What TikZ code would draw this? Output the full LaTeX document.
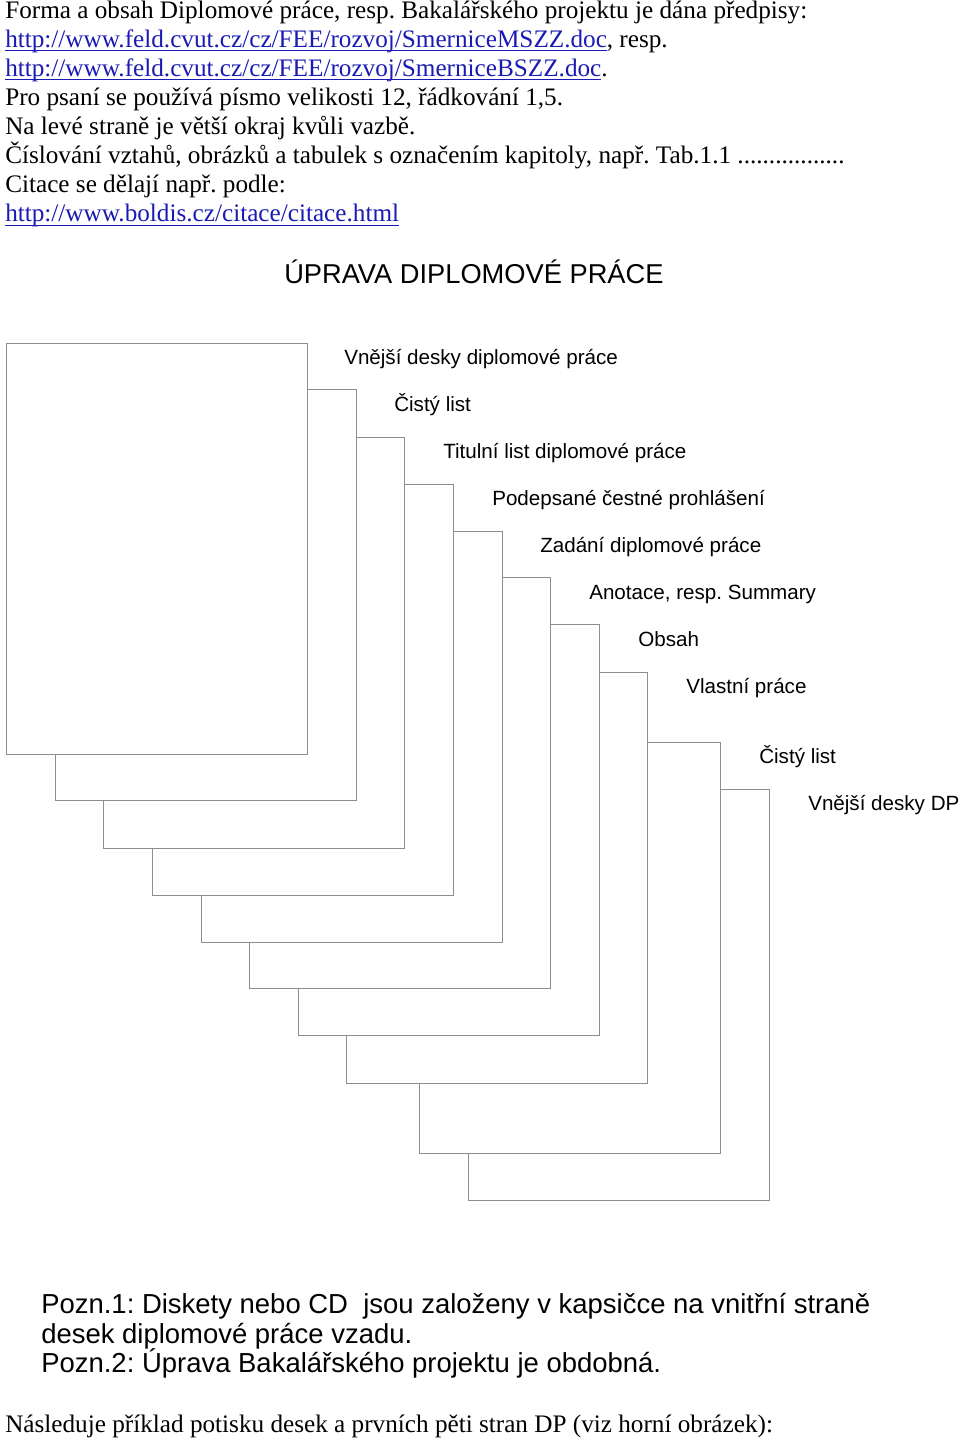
\documentclass[tikz,border=0pt]{standalone}
\usepackage{fontspec}
\setmainfont{Liberation Serif}
\newfontfamily\arialf{Liberation Sans}
\definecolor{linkblue}{HTML}{1A1AB4}
\definecolor{pagegray}{HTML}{8E8E8E}
\newcommand\ulnk[1]{\setbox0\hbox{#1}\rlap{\rule[-3pt]{\wd0}{0.9pt}}\box0}
\frenchspacing
\begin{document}
\begin{tikzpicture}[x=0.75pt,y=-0.75pt,
  pagebox/.style={draw=pagegray,line width=0.9pt,fill=white,anchor=north west,
    minimum width=225.75pt,minimum height=308.25pt,inner sep=0pt},
  toptext/.style={anchor=base west,inner sep=0pt,font=\fontsize{18.9}{21.8}\selectfont},
  pagelabel/.style={anchor=base west,inner sep=0pt,font=\arialf\fontsize{15.45}{18}\selectfont},
  titletext/.style={anchor=base west,inner sep=0pt,font=\arialf\fontsize{20.45}{24}\selectfont},
  notetext/.style={anchor=base west,inner sep=0pt,font=\arialf\fontsize{20.6}{24}\selectfont}]
\useasboundingbox (0,0) rectangle (960,1441);
% top text
\node[toptext] (t1) at (5,18.3) {Forma a obsah Diplomové práce, resp. Bakalářského projektu je dána předpisy:};
\node[toptext] (t2) at (5,47.4) {\textcolor{linkblue}{\ulnk{http://www.feld.cvut.cz/cz/FEE/rozvoj/SmerniceMSZZ.doc}}, resp.};
\node[toptext] (t3) at (5,76.4) {\textcolor{linkblue}{\ulnk{http://www.feld.cvut.cz/cz/FEE/rozvoj/SmerniceBSZZ.doc}}.};
\node[toptext] (t4) at (5,105.5) {Pro psaní se používá písmo velikosti 12, řádkování 1,5.};
\node[toptext] (t5) at (5,134.5) {Na levé straně je větší okraj kvůli vazbě.};
\node[toptext] (t6) at (5,163.6) {Číslování vztahů, obrázků a tabulek s označením kapitoly, např. Tab.1.1 .................};
\node[toptext] (t7) at (5,192.7) {Citace se dělají např. podle:};
\node[toptext] (t8) at (5,221.7) {\textcolor{linkblue}{\ulnk{http://www.boldis.cz/citace/citace.html}}};
% title
\node[titletext] (title) at (284,283) {ÚPRAVA DIPLOMOVÉ PRÁCE};
% pages, back to front
\foreach \n/\px/\py in {10/468/789, 9/419/742, 8/346/671.5, 7/298/624, 6/249/577,
                        5/200.5/530.5, 4/152/483.5, 3/103/436.5, 2/55/389, 1/6/343}
  \node[pagebox] (p\n) at (\px,\py) {};
% labels
\node[pagelabel] (l1) at (344,364) {Vnější desky diplomové práce};
\node[pagelabel] (l2) at (394,411) {Čistý list};
\node[pagelabel] (l3) at (443,458) {Titulní list diplomové práce};
\node[pagelabel] (l4) at (492,505) {Podepsané čestné prohlášení};
\node[pagelabel] (l5) at (540,552) {Zadání diplomové práce};
\node[pagelabel] (l6) at (589,599) {Anotace, resp. Summary};
\node[pagelabel] (l7) at (638,646) {Obsah};
\node[pagelabel] (l8) at (686,693) {Vlastní práce};
\node[pagelabel] (l9) at (759,763) {Čistý list};
\node[pagelabel] (l10) at (808,810.5) {Vnější desky DP};
% notes
\node[notetext] (n1) at (41,1313.5) {Pozn.1: Diskety nebo CD\ \ jsou založeny v kapsičce na vnitřní straně};
\node[notetext] (n2) at (41,1343) {desek diplomové práce vzadu.};
\node[notetext] (n3) at (41,1372.5) {Pozn.2: Úprava Bakalářského projektu je obdobná.};
\node[toptext] (last) at (5,1432) {Následuje příklad potisku desek a prvních pěti stran DP (viz horní obrázek):};
\end{tikzpicture}
\end{document}
